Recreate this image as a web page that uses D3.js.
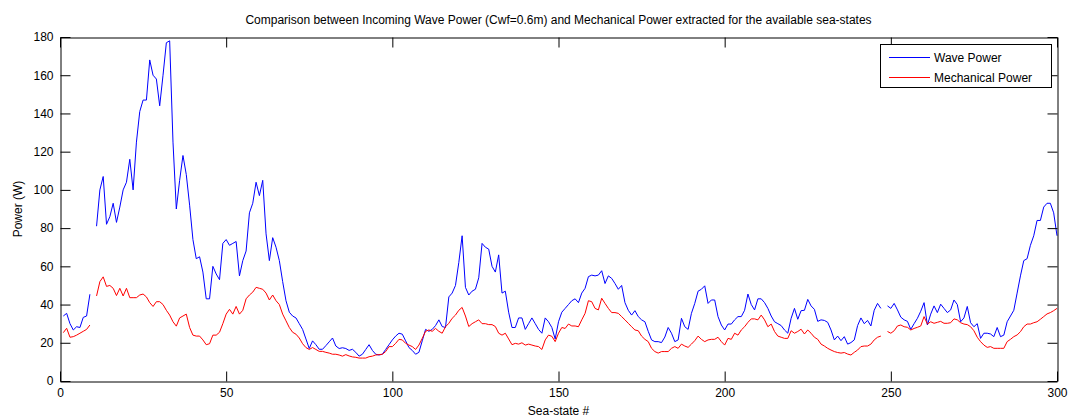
<!DOCTYPE html>
<html>
<head>
<meta charset="utf-8">
<script src="https://cdn.jsdelivr.net/npm/d3@7"></script>
<style>
  html, body { margin: 0; padding: 0; background: #ffffff; }
  svg { display: block; }
  text { font-family: "Liberation Sans", Arial, sans-serif; fill: #000; }
</style>
</head>
<body>
<svg id="chart" width="1068" height="418"></svg>
<script>
// Power per sea-state (W); null marks a sea-state with no result
const wavePower = [
  34, 35.4, 30, 26.7, 28.4, 28, 33.3, 34, 45.4, null,
  81, 100, 107, 82, 86, 93, 83, 91, 100, 104,
  116, 100, 125, 141, 147, 147, 168, 160, 158, 144,
  160, 177, 178, 125, 90, 105, 118, 108, 92, 74,
  64, 65, 57, 43, 43, 60, 56, 53, 72, 74,
  71, 72, 73, 55, 63, 68, 88, 93, 104, 97,
  105, 77, 63, 75, 70, 63, 52, 42, 36, 34,
  33, 30, 27, 22, 17, 21, 19, 16.6, 16.6, 18.5,
  20.5, 22.5, 18.3, 17, 17.4, 17, 16, 16.6, 15, 13,
  14, 16.5, 19, 16, 14, 13.6, 14, 16.5, 19, 21.5,
  23.5, 25, 24.5, 21, 17.5, 16, 14, 15, 21, 27,
  26, 27, 29, 32, 28.5, 28, 44, 46, 50, 62,
  76, 49, 45, 47, 48, 54, 72, 70, 69, 60,
  57, 66, 46, 47, 36, 28, 28, 33, 33, 27,
  30, 33, 30, 27, 25, 33, 31, 28, 22, 31,
  36, 38, 40, 42, 43, 41, 46, 48.5, 54.6, 55.4,
  55, 55.4, 57.7, 51, 55, 53.7, 51, 48, 50, 41,
  37, 34.5, 36.8, 33.7, 32, 31, 26, 21.5, 20.6, 20.6,
  20.1, 23, 28, 25, 20.6, 21.5, 32.8, 28.4, 27, 35.4,
  40.6, 47, 48, 49.8, 40.6, 42.4, 42.4, 33.7, 29.3, 26.7,
  29.8, 29.8, 32, 33.7, 33.7, 37, 45.5, 40, 37.2, 43,
  43, 41, 38, 34, 31, 30, 29, 26.7, 25, 32.8,
  38, 32.3, 36.8, 37, 42.7, 39.3, 37.5, 31.2, 32, 31.7,
  30.7, 26.7, 21.5, 23.5, 21.1, 23.2, 19.3, 20.1, 21.5, 29,
  33, 30, 31.7, 28.8, 37, 40.6, 38, null, 39.3, 38,
  40.6, 37.2, 33.4, 32, 31.2, 27, 30, 32.8, 36.5, 41,
  29.3, 35, 39.3, 35.8, 40.2, 38, 35.8, 37.2, 42.4, 40,
  31, 33, 39, 30.5, 28.4, 30, 22.3, 25, 25, 24.6,
  23.2, 28, 23.2, 24, 31, 34, 37, 46, 55, 63,
  64, 71, 76, 84, 84, 91, 93, 93, 88, 76
];

const mechanicalPower = [
  25.3, 27.6, 22.9, 23.2, 24, 25, 26, 27, 29.3, null,
  44.5, 52, 54.5, 49.5, 50, 48.5, 44.7, 48.5, 44.5, 48.5,
  43.6, 43.6, 43.6, 45, 45.5, 44, 41, 39, 41.5, 41.5,
  40, 37, 34.5, 31, 28.7, 33, 34, 35, 28, 24,
  23.5, 23.5, 21.5, 19, 19.5, 24, 24, 25.5, 30, 35,
  37.5, 35, 39, 35, 37, 43, 45, 46.5, 49, 48.5,
  48, 46, 42.4, 45, 42, 40, 35, 31.5, 28, 25.5,
  24.5, 22.5, 19.5, 17.5, 16.5, 17.5, 16.5, 15.5, 15.5, 15,
  14.6, 14, 14, 13.6, 13, 13.8, 13.1, 12.6, 12.4, 12,
  12, 12, 12.7, 13, 13.6, 13.8, 14, 15.4, 18, 18,
  19.7, 21.8, 21.5, 19.7, 18.8, 18, 16.5, 18.8, 22.3, 26,
  26.7, 26, 27.5, 26, 25, 28.4, 30.2, 32.8, 34.5, 37,
  38.5, 34, 28.5, 30, 31, 32, 30, 30, 29.5, 29.5,
  28.5, 25, 24, 25, 22, 19, 19.7, 19.3, 20, 18.8,
  19.3, 18.8, 18.3, 18, 16.5, 21.5, 24, 23.4, 20.6, 25,
  28, 27.5, 29.8, 28.8, 28.8, 28.4, 32, 35.4, 42, 41.5,
  38, 37.2, 43.3, 40.6, 38, 35.8, 35.8, 35.4, 33.7, 32,
  30.2, 28.4, 26.7, 26.3, 23.5, 21.8, 20.6, 17.1, 15.4, 14.6,
  15.4, 15.4, 15.4, 17.1, 18, 17.1, 19.3, 18.3, 17.6, 19.3,
  21.1, 23.5, 21.8, 20.6, 21.5, 21.8, 21.8, 22.9, 20.6, 18.8,
  22.3, 21.8, 25, 24, 26.7, 28.4, 30.7, 32.5, 32.5, 32,
  34.5, 32, 28.4, 29.8, 25.9, 23.5, 22.9, 22.3, 22.3, 26.3,
  25, 25.9, 27.1, 24.6, 26.7, 25, 22.9, 21.8, 19.3, 18.3,
  17.1, 16.2, 15.4, 14.9, 14.6, 14.9, 14.1, 13.6, 15, 16.2,
  18, 18.3, 18.3, 19.3, 21.5, 22.9, 23.5, null, 25.9, 25,
  26.3, 28.8, 29.3, 28.4, 28.1, 26.7, 27.5, 28.1, 28.8, 33.7,
  29.8, 31, 30.2, 30.7, 31.2, 30.2, 30.2, 30.5, 32.5, 32,
  30.5, 29.8, 29.5, 28.4, 26.3, 22.9, 20.6, 18.8, 17.6, 18,
  17.1, 17.1, 17.1, 17.1, 20.6, 21.8, 23.2, 24.1, 25.8, 28.4,
  29.8, 29.8, 30.5, 31, 32.3, 33.7, 35.1, 35.8, 36.8, 38
];

// Sea-state numbers 1..N
const seaStates = d3.range(1, wavePower.length + 1);

const xTicks = [0, 50, 100, 150, 200, 250, 300];
const yTicks = [0, 20, 40, 60, 80, 100, 120, 140, 160, 180];

const seriesNames = ["Wave Power", "Mechanical Power"];
const seriesColors = ["#0000ff", "#ff0000"];

const titleText = "Comparison between Incoming Wave Power (Cwf=0.6m) and Mechanical Power extracted for the available sea-states";
const xLabel = "Sea-state #";
const yLabel = "Power (W)";

const svg = d3.select("#chart");
const m = { left: 60, right: 1057, top: 37, bottom: 381 };
const W = m.right - m.left, H = m.bottom - m.top;

const x = d3.scaleLinear().domain([0, 300]).range([m.left, m.right]);
const y = d3.scaleLinear().domain([0, 180]).range([m.bottom, m.top]);

const tickLen = 10;

// Data lines (clipped to the axes box)
svg.append("clipPath").attr("id", "plotClip")
  .append("rect").attr("x", m.left).attr("y", m.top).attr("width", W + 1).attr("height", H + 1);

const line = d3.line()
  .defined(d => d[1] != null)
  .x(d => x(d[0]))
  .y(d => y(d[1]));

const plot = svg.append("g").attr("clip-path", "url(#plotClip)");
[wavePower, mechanicalPower].forEach((vals, k) => {
  plot.append("path")
    .datum(seaStates.map((s, i) => [s, vals[i]]))
    .attr("fill", "none")
    .attr("stroke", seriesColors[k])
    .attr("stroke-width", 1)
    .attr("stroke-linejoin", "round")
    .attr("d", line);
});

// Axes: ticks pointing inward on all four sides
const axisBottom = d3.axisBottom(x).tickValues(xTicks).tickSize(-tickLen).tickPadding(7).tickSizeOuter(0);
const axisTop = d3.axisTop(x).tickValues(xTicks).tickSize(-tickLen).tickFormat("").tickSizeOuter(0);
const axisLeft = d3.axisLeft(y).tickValues(yTicks).tickSize(-tickLen).tickPadding(7).tickSizeOuter(0);
const axisRight = d3.axisRight(y).tickValues(yTicks).tickSize(-tickLen).tickFormat("").tickSizeOuter(0);

function styleAxis(g) {
  g.select(".domain").attr("stroke", "#000");
  g.selectAll(".tick line").attr("stroke", "#000");
  g.selectAll(".tick text").attr("font-size", 12).attr("font-family", "Liberation Sans, Arial, sans-serif").attr("fill", "#000");
}

svg.append("g").attr("transform", `translate(0,${m.bottom + 0.5})`).call(axisBottom).call(styleAxis);
svg.append("g").attr("transform", `translate(0,${m.top + 0.5})`).call(axisTop).call(styleAxis);
svg.append("g").attr("transform", `translate(${m.left + 0.5},0)`).call(axisLeft).call(styleAxis);
svg.append("g").attr("transform", `translate(${m.right + 0.5},0)`).call(axisRight).call(styleAxis);

// Title and axis labels
svg.append("text")
  .attr("x", (m.left + m.right) / 2).attr("y", 24)
  .attr("text-anchor", "middle").attr("font-size", 12)
  .text(titleText);

svg.append("text")
  .attr("x", (m.left + m.right) / 2).attr("y", 415)
  .attr("text-anchor", "middle").attr("font-size", 12)
  .text(xLabel);

svg.append("text")
  .attr("transform", `translate(22,${(m.top + m.bottom) / 2}) rotate(-90)`)
  .attr("text-anchor", "middle").attr("font-size", 12)
  .text(yLabel);

// Legend
const lg = svg.append("g");
lg.append("rect")
  .attr("x", 880.5).attr("y", 44.5).attr("width", 171).attr("height", 43)
  .attr("fill", "#fff").attr("stroke", "#000");
seriesNames.forEach((name, k) => {
  const ly = 57 + k * 20;
  lg.append("line")
    .attr("x1", 889).attr("x2", 930).attr("y1", ly + 0.5).attr("y2", ly + 0.5)
    .attr("stroke", seriesColors[k]).attr("stroke-width", 1);
  lg.append("text")
    .attr("x", 934).attr("y", ly + 4.5).attr("font-size", 12)
    .text(name);
});
</script>
</body>
</html>
